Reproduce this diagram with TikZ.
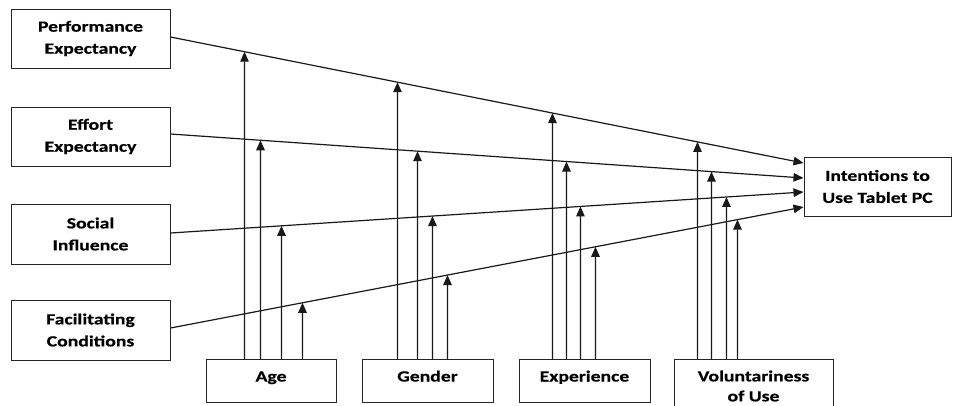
\documentclass[tikz,border=0pt]{standalone}
\usepackage{fontspec}
\newfontfamily\lblfont{Carlito}[FakeStretch=1.27, BoldFeatures={FakeBold=0.5}]
\usetikzlibrary{arrows.meta,calc}
\tikzset{
  box/.style={draw=black!85, line width=1pt, fill=white, inner sep=0pt,
    align=center, font=\lblfont\bfseries\fontsize{15.5}{22}\selectfont},
  modbox/.style={box, anchor=north, minimum height=43, text height=10pt, text depth=9pt},
  lbl/.style={inner sep=0pt, align=center, font=\lblfont\bfseries\fontsize{15.5}{20}\selectfont},
  link/.style={draw=black!90, line width=1.2pt, -{Triangle[length=10pt,width=8.5pt]}},
}
\begin{document}
\begin{tikzpicture}[x=1pt,y=-1pt]
\useasboundingbox (0,0) rectangle (953,405);
% left boxes
\node[box, minimum width=159, minimum height=59] (perf) at (90.5,38.5) {Performance\\Expectancy};
\node[box, minimum width=159, minimum height=59] (effort) at (90.5,136.5) {Effort\\Expectancy};
\node[box, minimum width=159, minimum height=60] (social) at (90.5,234) {Social\\Influence};
\node[box, minimum width=159, minimum height=60] (facil) at (90.5,330) {Facilitating\\Conditions};
% target
\node[box, minimum width=147, minimum height=59] (intent) at (877.5,186.5) {Intentions to\\Use Tablet PC};
% moderators
\node[modbox, minimum width=130] (age) at (271,359) {Age};
\node[modbox, minimum width=131] (gender) at (427.5,359) {Gender};
\node[modbox, minimum width=131] (exper) at (584.5,359) {Experience};
\node[box, minimum width=159, minimum height=72, anchor=north] (volun) at (753.5,359) {};
\node[lbl] (volunlbl) at (753.5,386) {Voluntariness\\of Use};
% line end points
\coordinate (L1) at ($(perf.east)+(0,-1.5)$);
\coordinate (L2) at ($(effort.east)+(0,-2.5)$);
\coordinate (L3) at ($(social.east)+(0,-1)$);
\coordinate (L4) at ($(facil.east)+(0,-2)$);
\coordinate (T1) at ($(intent.west)+(0,-23.5)$);
\coordinate (T2) at ($(intent.west)+(0,-8.5)$);
\coordinate (T3) at ($(intent.west)+(0,5.5)$);
\coordinate (T4) at ($(intent.west)+(0,20.5)$);
\foreach \i in {1,2,3,4} {\draw[link] (L\i) -- (T\i);}
% moderator arrows
\foreach \b/\dx/\k in {age/39/1, age/55/2, age/76/3, age/97/4,
                       gender/36/1, gender/56/2, gender/71/3, gender/86/4,
                       exper/34/1, exper/48/2, exper/62/3, exper/77/4,
                       volun/24/1, volun/38/2, volun/53/3, volun/64/4} {
  \coordinate (s) at ($(\b.north west)+(\dx,0)$);
  \coordinate (u) at ($(s)+(0,-350)$);
  \draw[link] (s) -- (intersection of s--u and L\k--T\k);
}
\end{tikzpicture}
\end{document}
